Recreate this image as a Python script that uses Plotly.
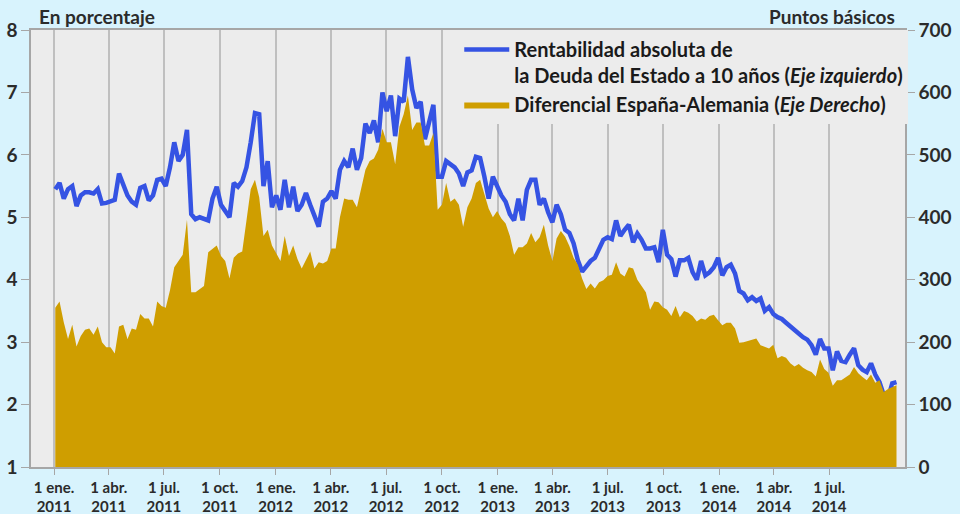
import pandas as pd
import plotly.graph_objects as go

# Weekly observations (Mondays) from 3 Jan 2011 to 20 Oct 2014
start_date = "2011-01-03"
n_weeks = 199

yield_10y = [
    5.45, 5.55, 5.30, 5.45, 5.50, 5.18, 5.35, 5.40, 5.40, 5.38,
    5.45, 5.22, 5.23, 5.25, 5.28, 5.70, 5.50, 5.35, 5.25, 5.20,
    5.47, 5.50, 5.27, 5.35, 5.60, 5.62, 5.50, 5.80, 6.20, 5.90,
    6.00, 6.40, 5.05, 4.97, 5.00, 4.97, 4.95, 5.30, 5.49, 5.20,
    5.10, 5.00, 5.55, 5.49, 5.58, 5.80, 6.20, 6.67, 6.65, 5.50,
    5.90, 5.16, 5.35, 5.12, 5.60, 5.16, 5.49, 5.10, 5.20, 5.39,
    5.20, 5.00, 4.85, 5.25, 5.30, 5.42, 5.30, 5.76, 5.90, 5.80,
    6.10, 5.76, 5.95, 6.50, 6.35, 6.55, 6.20, 7.00, 6.70, 6.95,
    6.30, 6.90, 6.85, 7.57, 7.05, 6.75, 6.85, 6.25, 6.55, 6.80,
    5.65, 5.65, 5.90, 5.85, 5.80, 5.70, 5.50, 5.72, 5.75, 5.97,
    5.95, 5.65, 5.30, 5.65, 5.50, 5.35, 5.25, 5.05, 4.95, 5.30,
    4.95, 5.44, 5.60, 5.60, 5.20, 5.30, 5.08, 4.92, 5.20, 5.05,
    4.80, 4.75, 4.58, 4.31, 4.13, 4.22, 4.30, 4.35, 4.48, 4.64,
    4.68, 4.65, 4.95, 4.70, 4.80, 4.88, 4.60, 4.74, 4.64, 4.50,
    4.50, 4.52, 4.28, 4.80, 4.40, 4.33, 4.05, 4.31, 4.31, 4.35,
    4.12, 4.00, 4.30, 4.07, 4.12, 4.20, 4.35, 4.07, 4.20, 4.24,
    4.10, 3.82, 3.78, 3.67, 3.72, 3.66, 3.70, 3.50, 3.56, 3.45,
    3.40, 3.37, 3.31, 3.25, 3.18, 3.13, 3.08, 3.04, 2.95, 2.80,
    3.05, 2.90, 2.90, 2.55, 2.85, 2.70, 2.68, 2.80, 2.90, 2.63,
    2.56, 2.52, 2.66, 2.48, 2.36, 2.15, 2.10, 2.34, 2.36,
]

spread_bp = [
    255, 265, 232, 205, 228, 193, 210, 220, 222, 212,
    225, 200, 192, 192, 182, 225, 228, 205, 222, 220,
    245, 238, 238, 225, 265, 258, 255, 283, 320, 330,
    340, 396, 280, 280, 285, 290, 344, 350, 355, 338,
    330, 302, 335, 342, 345, 395, 445, 460, 432, 370,
    380, 355, 342, 330, 370, 338, 355, 333, 318, 331,
    345, 318, 328, 326, 330, 350, 350, 400, 430, 428,
    428, 416, 445, 476, 490, 494, 508, 542, 520, 520,
    485, 545, 565, 595, 540, 552, 552, 515, 515, 535,
    412, 420, 455, 425, 430, 420, 385, 416, 430, 455,
    460, 438, 414, 400, 410, 398, 390, 370, 340, 352,
    352, 358, 375, 360, 368, 388, 355, 330, 366, 378,
    369, 354, 335, 324, 302, 285, 294, 286, 296, 299,
    306, 308, 328, 310, 305, 320, 318, 300, 290, 280,
    252, 265, 264, 256, 252, 242, 258, 240, 250, 247,
    242, 233, 238, 236, 242, 244, 235, 227, 231, 231,
    222, 199, 200, 202, 204, 206, 195, 192, 190, 196,
    174, 178, 175, 166, 161, 165, 159, 155, 152, 145,
    172, 157, 151, 130, 139, 139, 143, 148, 160, 150,
    144, 139, 148, 135, 139, 120, 125, 128, 131,
]

tick_dates = [
    "2011-01-01", "2011-04-01", "2011-07-01", "2011-10-01",
    "2012-01-01", "2012-04-01", "2012-07-01", "2012-10-01",
    "2013-01-01", "2013-04-01", "2013-07-01", "2013-10-01",
    "2014-01-01", "2014-04-01", "2014-07-01",
]
tick_labels = [
    "1 ene.<br>2011", "1 abr.<br>2011", "1 jul.<br>2011", "1 oct.<br>2011",
    "1 ene.<br>2012", "1 abr.<br>2012", "1 jul.<br>2012", "1 oct.<br>2012",
    "1 ene.<br>2013", "1 abr.<br>2013", "1 jul.<br>2013", "1 oct.<br>2013",
    "1 ene.<br>2014", "1 abr.<br>2014", "1 jul.<br>2014",
]

dates = pd.date_range(start_date, periods=n_weeks, freq="7D")

BLUE = "#3553e3"
GOLD = "#cf9e00"
TXT = "#2b2b2b"
FONT = "Lato"

fig = go.Figure()
fig.add_trace(go.Scatter(
    x=dates, y=spread_bp, yaxis="y2", mode="lines",
    line=dict(color=GOLD, width=0), fill="tozeroy", fillcolor=GOLD,
    name="Diferencial España-Alemania (<i>Eje Derecho</i>)", legendrank=2,
))
fig.add_trace(go.Scatter(
    x=dates, y=yield_10y, mode="lines",
    line=dict(color=BLUE, width=4.5),
    name="Rentabilidad absoluta de<br>la Deuda del Estado a 10 años (<i>Eje izquierdo</i>)",
    legendrank=1,
))

fig.update_layout(
    width=960, height=514,
    margin=dict(l=31, r=55, t=30, b=47, autoexpand=False),
    paper_bgcolor="#d8f3fd",
    plot_bgcolor="#ececec",
    font=dict(family=FONT, color=TXT, size=14),
    showlegend=True,
    legend=dict(
        x=0.49, y=1.0, xanchor="left", yanchor="top",
        bgcolor="#ececec", borderwidth=0,
        font=dict(family=FONT, size=20, color="#1a1a1a", weight="bold"),
        valign="top", itemwidth=45, tracegroupgap=0,
    ),
    xaxis=dict(
        type="date", automargin=False,
        range=["2010-11-24", "2014-11-03"],
        tickvals=tick_dates, ticktext=tick_labels,
        tickfont=dict(family=FONT, size=15, color=TXT, weight="bold"),
        showgrid=True, gridcolor="#bfbfbf", gridwidth=1.5,
        showline=True, linecolor="#a6a6a6", linewidth=1.5, mirror=True,
        ticks="outside", ticklen=6, tickcolor="#a6a6a6",
        zeroline=False,
    ),
    yaxis=dict(
        range=[1, 8], dtick=1, tick0=1, automargin=False,
        tickfont=dict(family=FONT, size=19, color=TXT, weight="bold"),
        showgrid=False, zeroline=False,
        showline=True, linecolor="#a6a6a6", linewidth=1.5,
        ticks="outside", ticklen=8, tickcolor="#a6a6a6",
    ),
    yaxis2=dict(
        range=[0, 700], dtick=100, overlaying="y", side="right", automargin=False,
        tickfont=dict(family=FONT, size=19, color=TXT, weight="bold"),
        showgrid=False, zeroline=False,
        showline=True, linecolor="#a6a6a6", linewidth=1.5,
        ticks="outside", ticklen=8, tickcolor="#a6a6a6",
    ),
    annotations=[
        dict(text="En porcentaje", xref="paper", yref="paper", x=0.007, y=1.0,
             xanchor="left", yanchor="bottom", showarrow=False,
             font=dict(family=FONT, size=19, color=TXT, weight="bold")),
        dict(text="Puntos básicos", xref="paper", yref="paper", x=0.991, y=1.0,
             xanchor="right", yanchor="bottom", showarrow=False,
             font=dict(family=FONT, size=19, color=TXT, weight="bold")),
    ],
)

fig.write_html(
    "out.html",
    config={"displayModeBar": False},
    post_script="document.body.style.margin='0';document.body.style.padding='0';",
)
